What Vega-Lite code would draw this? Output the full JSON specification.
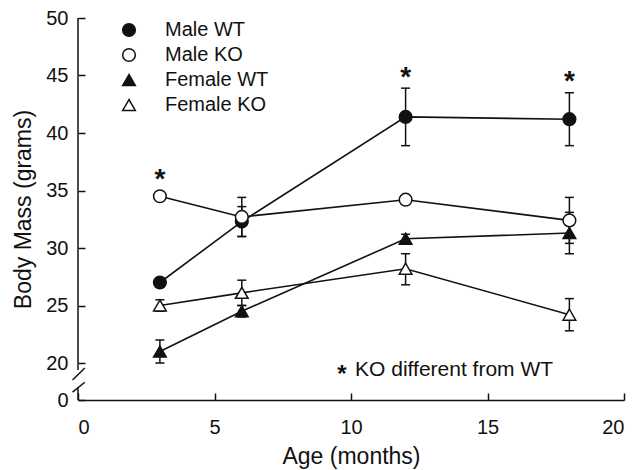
{
  "$schema": "https://vega.github.io/schema/vega-lite/v6.json",
  "width": 546,
  "height": 382,
  "autosize": {"type": "none"},
  "padding": {"left": 78, "top": 18, "right": 11, "bottom": 70},
  "background": "white",
  "config": {
    "view": {"stroke": null},
    "font": "Liberation Sans",
    "axis": {
      "labelFont": "Liberation Sans",
      "titleFont": "Liberation Sans",
      "labelColor": "#111",
      "titleColor": "#111",
      "domainColor": "#111",
      "tickColor": "#111",
      "grid": false,
      "titleFontWeight": "normal",
      "labelFontSize": 20,
      "titleFontSize": 23,
      "domainWidth": 1.5,
      "tickWidth": 1.5
    }
  },
  "datasets": {
    "obs": [
      {"series": "Male WT", "age": 3, "mass": 27.0, "lo": null, "hi": null},
      {"series": "Male WT", "age": 6, "mass": 32.3, "lo": 31.0, "hi": 33.6},
      {"series": "Male WT", "age": 12, "mass": 41.4, "lo": 38.9, "hi": 43.9},
      {"series": "Male WT", "age": 18, "mass": 41.2, "lo": 38.9, "hi": 43.5},
      {"series": "Male KO", "age": 3, "mass": 34.5, "lo": null, "hi": null},
      {"series": "Male KO", "age": 6, "mass": 32.7, "lo": 31.0, "hi": 34.4},
      {"series": "Male KO", "age": 12, "mass": 34.2, "lo": 33.9, "hi": 34.5},
      {"series": "Male KO", "age": 18, "mass": 32.4, "lo": 30.4, "hi": 34.4},
      {"series": "Female WT", "age": 3, "mass": 21.0, "lo": 20.0, "hi": 22.0},
      {"series": "Female WT", "age": 6, "mass": 24.5, "lo": 24.0, "hi": 25.0},
      {"series": "Female WT", "age": 12, "mass": 30.8, "lo": 30.4, "hi": 31.2},
      {"series": "Female WT", "age": 18, "mass": 31.3, "lo": 29.5, "hi": 33.1},
      {"series": "Female KO", "age": 3, "mass": 25.0, "lo": 24.5, "hi": 25.5},
      {"series": "Female KO", "age": 6, "mass": 26.1, "lo": 25.0, "hi": 27.2},
      {"series": "Female KO", "age": 12, "mass": 28.2, "lo": 26.8, "hi": 29.5},
      {"series": "Female KO", "age": 18, "mass": 24.2, "lo": 22.8, "hi": 25.6}
    ],
    "stars": [
      {"age": 3, "mass": 35.2},
      {"age": 12, "mass": 44.1},
      {"age": 18, "mass": 43.7}
    ],
    "axisparts": [
      {"x": 0, "x2": 0, "y": 50, "y2": 16.2},
      {"x": -0.2, "x2": 0.25, "y": 10.8, "y2": 17.3},
      {"x": -0.2, "x2": 0.25, "y": 4.3, "y2": 9.6},
      {"x": 0, "x2": 0, "y": 0, "y2": 7.0}
    ],
    "note": [
      {"age": 9.67, "mass": 10.0, "label": "*", "kind": "star"},
      {"age": 10.15, "mass": 13.0, "label": "KO different from WT", "kind": "text"}
    ]
  },
  "layer": [
    {
      "data": {"name": "axisparts"},
      "mark": {"type": "rule", "stroke": "#111", "strokeWidth": 1.5},
      "encoding": {
        "x": {"field": "x", "type": "quantitative",
          "scale": {"domain": [0, 20], "nice": false, "zero": false},
          "axis": {"title": "Age (months)", "values": [0, 5, 10, 15, 20], "tickSize": -7, "labelPadding": 24, "titlePadding": 8, "domain": true}},
        "x2": {"field": "x2"},
        "y": {"field": "y", "type": "quantitative",
          "scale": {"domain": [0, 20, 50], "range": [382, 345, 0], "nice": false, "zero": false},
          "axis": {"title": "Body Mass (grams)", "values": [0, 20, 25, 30, 35, 40, 45, 50], "tickSize": -7, "labelPadding": 17, "titlePadding": 10, "domain": false}},
        "y2": {"field": "y2"}
      }
    },
    {
      "data": {"name": "obs"},
      "mark": {"type": "line", "stroke": "#111", "strokeWidth": 1.6},
      "encoding": {
        "x": {"field": "age", "type": "quantitative", "scale": {"domain": [0, 20], "nice": false, "zero": false},
          "axis": {"title": "Age (months)", "values": [0, 5, 10, 15, 20], "tickSize": -7, "labelPadding": 24, "titlePadding": 8, "domain": true}},
        "y": {"field": "mass", "type": "quantitative", "scale": {"domain": [0, 20, 50], "range": [382, 345, 0], "nice": false, "zero": false},
          "axis": {"title": "Body Mass (grams)", "values": [0, 20, 25, 30, 35, 40, 45, 50], "tickSize": -7, "labelPadding": 17, "titlePadding": 10, "domain": false}},
        "detail": {"field": "series"}
      }
    },
    {
      "data": {"name": "obs"},
      "transform": [{"filter": "isValid(datum.lo)"}],
      "mark": {"type": "rule", "stroke": "#111", "strokeWidth": 1.5},
      "encoding": {
        "x": {"field": "age", "type": "quantitative", "scale": {"domain": [0, 20], "nice": false, "zero": false},
          "axis": {"title": "Age (months)", "values": [0, 5, 10, 15, 20], "tickSize": -7, "labelPadding": 24, "titlePadding": 8, "domain": true}},
        "y": {"field": "lo", "type": "quantitative", "scale": {"domain": [0, 20, 50], "range": [382, 345, 0], "nice": false, "zero": false},
          "axis": {"title": "Body Mass (grams)", "values": [0, 20, 25, 30, 35, 40, 45, 50], "tickSize": -7, "labelPadding": 17, "titlePadding": 10, "domain": false}},
        "y2": {"field": "hi"}
      }
    },
    {
      "data": {"name": "obs"},
      "transform": [{"filter": "isValid(datum.lo)"}],
      "mark": {"type": "tick", "orient": "horizontal", "size": 9, "thickness": 1.5, "color": "#111", "opacity": 1},
      "encoding": {
        "x": {"field": "age", "type": "quantitative", "scale": {"domain": [0, 20], "nice": false, "zero": false},
          "axis": {"title": "Age (months)", "values": [0, 5, 10, 15, 20], "tickSize": -7, "labelPadding": 24, "titlePadding": 8, "domain": true}},
        "y": {"field": "lo", "type": "quantitative", "scale": {"domain": [0, 20, 50], "range": [382, 345, 0], "nice": false, "zero": false},
          "axis": {"title": "Body Mass (grams)", "values": [0, 20, 25, 30, 35, 40, 45, 50], "tickSize": -7, "labelPadding": 17, "titlePadding": 10, "domain": false}}
      }
    },
    {
      "data": {"name": "obs"},
      "transform": [{"filter": "isValid(datum.hi)"}],
      "mark": {"type": "tick", "orient": "horizontal", "size": 9, "thickness": 1.5, "color": "#111", "opacity": 1},
      "encoding": {
        "x": {"field": "age", "type": "quantitative", "scale": {"domain": [0, 20], "nice": false, "zero": false},
          "axis": {"title": "Age (months)", "values": [0, 5, 10, 15, 20], "tickSize": -7, "labelPadding": 24, "titlePadding": 8, "domain": true}},
        "y": {"field": "hi", "type": "quantitative", "scale": {"domain": [0, 20, 50], "range": [382, 345, 0], "nice": false, "zero": false},
          "axis": {"title": "Body Mass (grams)", "values": [0, 20, 25, 30, 35, 40, 45, 50], "tickSize": -7, "labelPadding": 17, "titlePadding": 10, "domain": false}}
      }
    },
    {
      "data": {"name": "obs"},
      "mark": {"type": "point", "filled": true, "size": 160, "stroke": "#111", "strokeWidth": 1.5, "opacity": 1},
      "encoding": {
        "x": {"field": "age", "type": "quantitative", "scale": {"domain": [0, 20], "nice": false, "zero": false},
          "axis": {"title": "Age (months)", "values": [0, 5, 10, 15, 20], "tickSize": -7, "labelPadding": 24, "titlePadding": 8, "domain": true}},
        "y": {"field": "mass", "type": "quantitative", "scale": {"domain": [0, 20, 50], "range": [382, 345, 0], "nice": false, "zero": false},
          "axis": {"title": "Body Mass (grams)", "values": [0, 20, 25, 30, 35, 40, 45, 50], "tickSize": -7, "labelPadding": 17, "titlePadding": 10, "domain": false}},
        "shape": {"field": "series", "type": "nominal",
          "scale": {"domain": ["Male WT", "Male KO", "Female WT", "Female KO"], "range": ["circle", "circle", "triangle-up", "triangle-up"]},
          "legend": {"orient": "none", "legendX": 41, "legendY": 2, "title": null, "labelFontSize": 20, "labelFont": "Liberation Sans", "labelColor": "#111", "symbolSize": 160, "labelOffset": 26, "rowPadding": 5,
            "encode": {"symbols": {"update": {"stroke": {"value": "#111"}, "strokeWidth": {"value": 1.5}}}}}},
        "fill": {"field": "series", "type": "nominal",
          "scale": {"domain": ["Male WT", "Male KO", "Female WT", "Female KO"], "range": ["#111", "white", "#111", "white"]},
          "legend": {"orient": "none", "legendX": 41, "legendY": 2, "title": null, "labelFontSize": 20, "labelFont": "Liberation Sans", "labelColor": "#111", "symbolSize": 160, "labelOffset": 26, "rowPadding": 5,
            "encode": {"symbols": {"update": {"stroke": {"value": "#111"}, "strokeWidth": {"value": 1.5}}}}}}
      }
    },
    {
      "data": {"name": "stars"},
      "mark": {"type": "text", "text": "*", "fontSize": 28, "fontWeight": "bold", "font": "Liberation Sans", "baseline": "alphabetic", "align": "center", "color": "#111"},
      "encoding": {
        "x": {"field": "age", "type": "quantitative", "scale": {"domain": [0, 20], "nice": false, "zero": false},
          "axis": {"title": "Age (months)", "values": [0, 5, 10, 15, 20], "tickSize": -7, "labelPadding": 24, "titlePadding": 8, "domain": true}},
        "y": {"field": "mass", "type": "quantitative", "scale": {"domain": [0, 20, 50], "range": [382, 345, 0], "nice": false, "zero": false},
          "axis": {"title": "Body Mass (grams)", "values": [0, 20, 25, 30, 35, 40, 45, 50], "tickSize": -7, "labelPadding": 17, "titlePadding": 10, "domain": false}}
      }
    },
    {
      "data": {"name": "note"},
      "transform": [{"filter": "datum.kind === 'star'"}],
      "mark": {"type": "text", "fontSize": 24, "fontWeight": "bold", "font": "Liberation Sans", "baseline": "alphabetic", "align": "center", "color": "#111"},
      "encoding": {
        "x": {"field": "age", "type": "quantitative", "scale": {"domain": [0, 20], "nice": false, "zero": false},
          "axis": {"title": "Age (months)", "values": [0, 5, 10, 15, 20], "tickSize": -7, "labelPadding": 24, "titlePadding": 8, "domain": true}},
        "y": {"field": "mass", "type": "quantitative", "scale": {"domain": [0, 20, 50], "range": [382, 345, 0], "nice": false, "zero": false},
          "axis": {"title": "Body Mass (grams)", "values": [0, 20, 25, 30, 35, 40, 45, 50], "tickSize": -7, "labelPadding": 17, "titlePadding": 10, "domain": false}},
        "text": {"field": "label"}
      }
    },
    {
      "data": {"name": "note"},
      "transform": [{"filter": "datum.kind === 'text'"}],
      "mark": {"type": "text", "fontSize": 21, "font": "Liberation Sans", "baseline": "alphabetic", "align": "left", "color": "#111"},
      "encoding": {
        "x": {"field": "age", "type": "quantitative", "scale": {"domain": [0, 20], "nice": false, "zero": false},
          "axis": {"title": "Age (months)", "values": [0, 5, 10, 15, 20], "tickSize": -7, "labelPadding": 24, "titlePadding": 8, "domain": true}},
        "y": {"field": "mass", "type": "quantitative", "scale": {"domain": [0, 20, 50], "range": [382, 345, 0], "nice": false, "zero": false},
          "axis": {"title": "Body Mass (grams)", "values": [0, 20, 25, 30, 35, 40, 45, 50], "tickSize": -7, "labelPadding": 17, "titlePadding": 10, "domain": false}},
        "text": {"field": "label"}
      }
    }
  ]
}
